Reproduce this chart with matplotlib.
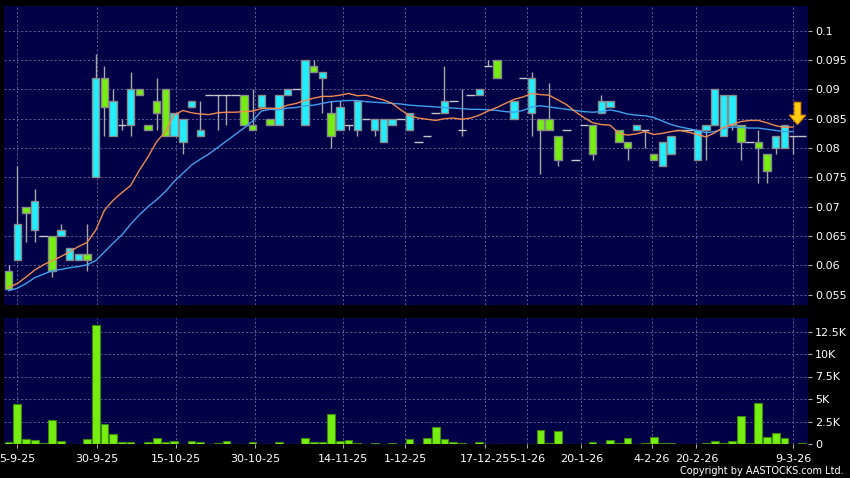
import numpy as np
import matplotlib.pyplot as plt
from matplotlib.patches import FancyArrow

nan = float('nan')

# daily OHLC (index = trading day shown on chart)
opens = [0.059, 0.061, 0.070, 0.066, 0.065, 0.065, 0.065, 0.061, 0.061, 0.062,
         0.075, 0.092, 0.082, 0.084, 0.084, 0.090, 0.084, 0.088, 0.090, 0.082,
         0.081, 0.087, 0.082, 0.089, 0.089, 0.089, 0.089, 0.089, 0.084, 0.087,
         0.085, 0.084, 0.089, 0.090, 0.084, 0.094, 0.092, 0.086, 0.083, 0.084,
         0.083, 0.085, 0.083, 0.081, 0.084, 0.085, 0.083, 0.081, 0.082, 0.086,
         0.086, 0.088, 0.083, 0.089, 0.089, 0.094, 0.095, nan, 0.085, 0.092,
         0.086, 0.085, 0.085, 0.082, 0.083, 0.078, 0.084, 0.084, 0.086, 0.087,
         0.083, 0.081, 0.083, 0.083, 0.079, 0.077, 0.079, 0.083, 0.083, 0.078,
         0.083, 0.084, 0.082, 0.084, 0.084, 0.081, 0.081, 0.079, 0.080, 0.080,
         0.082, 0.082]
highs = [0.060, 0.077, 0.070, 0.073, 0.065, 0.065, 0.067, 0.063, 0.062, 0.067,
         0.096, 0.094, 0.090, 0.085, 0.093, 0.090, 0.084, 0.092, 0.090, 0.086,
         0.085, 0.088, 0.088, 0.089, 0.089, 0.089, 0.089, 0.089, 0.090, 0.089,
         0.085, 0.089, 0.090, 0.090, 0.095, 0.095, 0.093, 0.088, 0.088, 0.084,
         0.088, 0.085, 0.085, 0.085, 0.085, 0.085, 0.086, 0.081, 0.082, 0.086,
         0.094, 0.088, 0.090, 0.089, 0.090, 0.095, 0.095, nan, 0.088, 0.092,
         0.093, 0.085, 0.091, 0.082, 0.083, 0.078, 0.084, 0.084, 0.089, 0.088,
         0.083, 0.081, 0.084, 0.083, 0.079, 0.081, 0.082, 0.083, 0.083, 0.083,
         0.084, 0.090, 0.089, 0.089, 0.084, 0.081, 0.083, 0.079, 0.082, 0.084,
         0.082, 0.082]
lows = [0.056, 0.061, 0.064, 0.064, 0.065, 0.058, 0.065, 0.061, 0.061, 0.059,
        0.075, 0.082, 0.082, 0.083, 0.082, 0.089, 0.083, 0.083, 0.082, 0.082,
        0.079, 0.087, 0.082, 0.089, 0.083, 0.084, 0.089, 0.084, 0.083, 0.087,
        0.084, 0.084, 0.089, 0.090, 0.084, 0.093, 0.086, 0.080, 0.083, 0.083,
        0.082, 0.085, 0.082, 0.081, 0.084, 0.085, 0.083, 0.081, 0.082, 0.086,
        0.086, 0.088, 0.082, 0.089, 0.089, 0.094, 0.092, nan, 0.085, 0.092,
        0.082, 0.0755, 0.083, 0.077, 0.083, 0.078, 0.084, 0.078, 0.086, 0.087,
        0.081, 0.078, 0.083, 0.080, 0.078, 0.077, 0.079, 0.083, 0.083, 0.078,
        0.078, 0.084, 0.082, 0.083, 0.078, 0.081, 0.074, 0.074, 0.079, 0.080,
        0.079, 0.082]
closes = [0.056, 0.067, 0.069, 0.071, 0.065, 0.059, 0.066, 0.063, 0.062, 0.061,
          0.092, 0.087, 0.088, 0.084, 0.090, 0.089, 0.083, 0.086, 0.082, 0.086,
          0.085, 0.088, 0.083, 0.089, 0.089, 0.089, 0.089, 0.084, 0.083, 0.089,
          0.084, 0.089, 0.090, 0.090, 0.095, 0.093, 0.093, 0.082, 0.087, 0.084,
          0.088, 0.085, 0.085, 0.085, 0.085, 0.085, 0.086, 0.081, 0.082, 0.086,
          0.088, 0.088, 0.083, 0.089, 0.090, 0.094, 0.092, nan, 0.088, 0.092,
          0.092, 0.083, 0.083, 0.078, 0.083, 0.078, 0.084, 0.079, 0.088, 0.088,
          0.081, 0.080, 0.084, 0.083, 0.078, 0.081, 0.082, 0.083, 0.083, 0.083,
          0.084, 0.090, 0.089, 0.089, 0.081, 0.081, 0.080, 0.076, 0.082, 0.084,
          0.082, 0.082]
volumes = [220, 4450, 600, 490, 100, 2690, 370, 0, 0, 520,
           13200, 2200, 1120, 260, 260, 30, 220, 710, 260, 340,
           40, 370, 260, 0, 150, 300, 40, 40, 190, 0,
           0, 190, 0, 0, 670, 260, 260, 3290, 300, 490,
           150, 0, 150, 0, 100, 0, 520, 0, 710, 1940,
           560, 220, 150, 0, 190, 0, 0, 0, 0, 0,
           0, 1570, 150, 1500, 0, 0, 0, 260, 0, 490,
           150, 710, 0, 150, 750, 100, 150, 0, 0, 0,
           75, 370, 150, 370, 3140, 150, 4600, 790, 1270, 670,
           0, 150]

ma_short = [0.0563, 0.0569, 0.0580, 0.0592, 0.0601, 0.0608, 0.0615, 0.0623, 0.0632, 0.0639,
            0.0660, 0.0694, 0.0711, 0.0724, 0.0736, 0.0762, 0.0785, 0.0811, 0.0828, 0.0856,
            0.0864, 0.0860, 0.0858, 0.0857, 0.0860, 0.0861, 0.0861, 0.0862, 0.0863, 0.0867,
            0.0868, 0.0867, 0.0873, 0.0876, 0.0881, 0.0885, 0.0888, 0.0888, 0.0890, 0.0893,
            0.0889, 0.0890, 0.0886, 0.0882, 0.0876, 0.0865, 0.0855, 0.0851, 0.0849, 0.0847,
            0.0850, 0.0851, 0.0849, 0.0851, 0.0856, 0.0863, 0.0869, 0.0876, 0.0883, 0.0887,
            0.0893, 0.0891, 0.0890, 0.0882, 0.0874, 0.0862, 0.0852, 0.0843, 0.0840, 0.0839,
            0.0825, 0.0822, 0.0824, 0.0828, 0.0823, 0.0825, 0.0828, 0.0830, 0.0827, 0.0823,
            0.0819, 0.0826, 0.0835, 0.0840, 0.0845, 0.0847, 0.0847, 0.0843, 0.0838, 0.0835,
            0.0836, nan]
ma_long = [0.0557, 0.0561, 0.0569, 0.0579, 0.0585, 0.0591, 0.0593, 0.0596, 0.0598, 0.0601,
           0.0608, 0.0623, 0.0638, 0.0652, 0.0670, 0.0686, 0.0700, 0.0712, 0.0726, 0.0743,
           0.0757, 0.0771, 0.0781, 0.0790, 0.0801, 0.0812, 0.0823, 0.0834, 0.0846, 0.0863,
           0.0866, 0.0865, 0.0868, 0.0869, 0.0872, 0.0873, 0.0876, 0.0879, 0.0880, 0.0881,
           0.0881, 0.0879, 0.0878, 0.0877, 0.0876, 0.0875, 0.0873, 0.0872, 0.0871, 0.0870,
           0.0869, 0.0868, 0.0867, 0.0866, 0.0866, 0.0865, 0.0864, 0.0862, 0.0861, 0.0864,
           0.0870, 0.0872, 0.0870, 0.0868, 0.0866, 0.0864, 0.0862, 0.0861, 0.0862, 0.0865,
           0.0862, 0.0858, 0.0856, 0.0855, 0.0852, 0.0846, 0.0840, 0.0836, 0.0833, 0.0830,
           0.0826, 0.0828, 0.0833, 0.0836, 0.0835, 0.0834, 0.0834, 0.0832, 0.0830, 0.0828,
           0.0828, nan]

date_pos = [1.0, 10.1, 19.2, 28.3, 38.4, 45.5, 54.6, 59.5, 65.7, 73.8, 78.9, 90.0]
date_labels = ['5-9-25', '30-9-25', '15-10-25', '30-10-25', '14-11-25', '1-12-25',
               '17-12-25', '5-1-26', '20-1-26', '4-2-26', '20-2-26', '9-3-26']
price_ticks = [0.055, 0.06, 0.065, 0.07, 0.075, 0.08, 0.085, 0.09, 0.095, 0.1]
vol_ticks = [0, 2500, 5000, 7500, 10000, 12500]
vol_labels = ['0', '2.5K', '5K', '7.5K', '10K', '12.5K']

BG = '#000046'
UP = '#22eeff'
DOWN = '#77ee11'
GRID = '#6a6aa0'

x = np.arange(len(closes))
o = np.array(opens); h = np.array(highs); l = np.array(lows); c = np.array(closes)

fig = plt.figure(figsize=(8.5, 4.78), dpi=100, facecolor='black')
ax = fig.add_axes([4/850, 1 - 305/478, 804/850, 299/478], facecolor=BG)
axv = fig.add_axes([4/850, 1 - 444/478, 804/850, 126/478], facecolor=BG, sharex=ax)

# wicks
ax.vlines(x, l, h, color='#a8a8a8', linewidth=1, zorder=2)
# flat candles (no change)
flat = o == c
ax.hlines(c[flat], x[flat] - 0.5, x[flat] + 0.5, color='#c8c8c8', linewidth=1, zorder=3)
# bodies
up = c > o
dn = c < o
ax.bar(x[up], (c - o)[up], bottom=o[up], width=0.86, color=UP,
       edgecolor='#8a8a8a', linewidth=1, zorder=3)
ax.bar(x[dn], (o - c)[dn], bottom=c[dn], width=0.86, color=DOWN,
       edgecolor='#8a8a8a', linewidth=1, zorder=3)

ax.plot(x, ma_long, color='#3fa0ee', linewidth=1, zorder=4)
ax.plot(x, ma_short, color='#f08a50', linewidth=1, zorder=4)

ax.add_patch(FancyArrow(90.5, 0.0878, 0, -0.0022, width=0.75, head_width=1.9,
                        head_length=0.0016, length_includes_head=False,
                        facecolor='#ffcc11', edgecolor='#dd8800', linewidth=0.8, zorder=6))

axv.bar(x, volumes, width=0.88, color=DOWN, edgecolor='#3a8a10', linewidth=0.8, zorder=3)

ax.set_xlim(-0.52, 91.7)
ax.set_ylim(0.05325, 0.1042)
axv.set_ylim(0, 14000)

for a in (ax, axv):
    a.yaxis.tick_right()
    a.grid(True, color=GRID, linestyle=(0, (2.5, 2.5)), linewidth=0.6, zorder=0)
    a.set_axisbelow(True)
    for s in a.spines.values():
        s.set_visible(False)
    a.tick_params(axis='y', colors='#aaaaaa', labelcolor='white', length=3,
                  labelsize=8, pad=2)

ax.set_yticks(price_ticks)
ax.set_yticklabels([f'{round(v, 3):g}' for v in price_ticks])
axv.set_yticks(vol_ticks)
axv.set_yticklabels(vol_labels)

axv.set_xticks(date_pos)
axv.set_xticklabels(date_labels)
ax.tick_params(axis='x', length=0, labelbottom=False)
axv.tick_params(axis='x', colors='#aaaaaa', labelcolor='white', length=3,
                labelsize=8, pad=4)

fig.text(0.993, 0.004, 'Copyright by AASTOCKS.com Ltd.', color='white',
         fontsize=7, ha='right', va='bottom')

fig.savefig('out.png', dpi=100, facecolor='black')
